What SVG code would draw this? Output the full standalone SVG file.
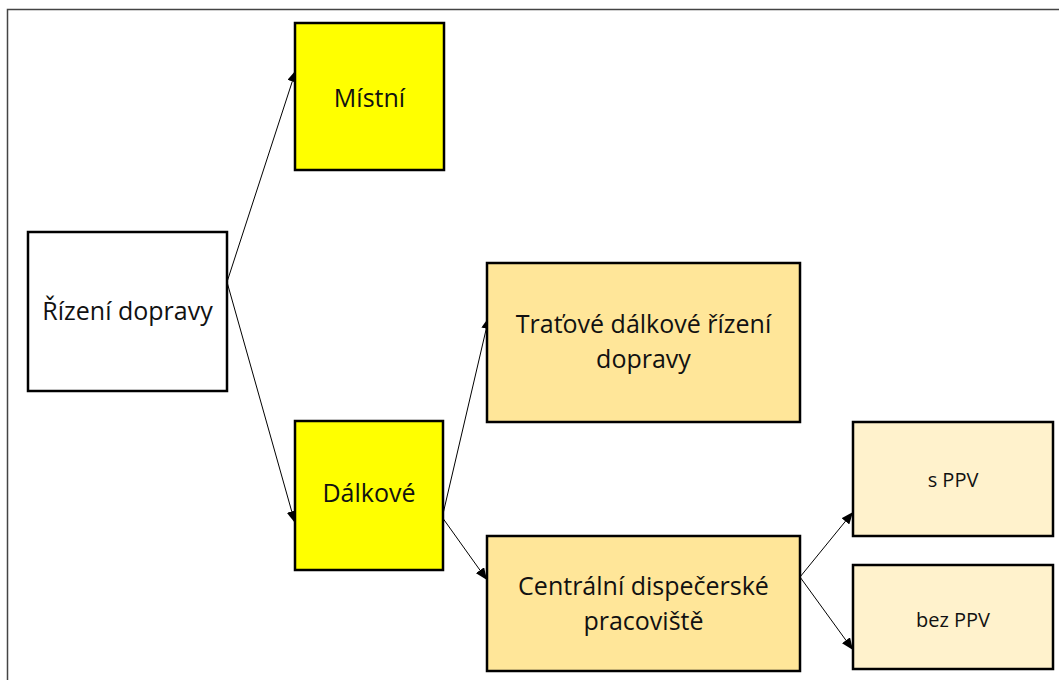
<svg xmlns="http://www.w3.org/2000/svg" width="1059" height="680" viewBox="0 0 1059 680">
<style>
.box{stroke:#000;stroke-width:2.5}
.y{fill:#FFFF00}
.o{fill:#FFE699}
.l{fill:#FFF2CC}
.w{fill:#FFFFFF}
text{font-family:"Open Sans","Liberation Sans",sans-serif;fill:#111;text-anchor:middle}
.big{font-size:25px}
.sm{font-size:20px}
.c{stroke:#000;stroke-width:1;fill:none;marker-end:url(#ah)}
</style>
<defs>
<marker id="ah" viewBox="0 0 12 10" refX="12" refY="5" markerWidth="12" markerHeight="10" markerUnits="userSpaceOnUse" orient="auto">
<path d="M0,0 L12,5 L0,10 Z" fill="#000"/>
</marker>
</defs>
<rect width="1059" height="680" fill="#fff"/>
<path d="M7.5,690 V9.5 H1070" fill="none" stroke="#444" stroke-width="1.5"/>
<g id="connectors">
<line class="c" x1="227" y1="282" x2="296" y2="70"/>
<line class="c" x1="227" y1="282" x2="295" y2="523"/>
<line class="c" x1="443" y1="514" x2="489" y2="317"/>
<line class="c" x1="442" y1="517" x2="487" y2="580"/>
<line class="c" x1="800" y1="577" x2="853" y2="512"/>
<line class="c" x1="800" y1="577" x2="853" y2="650"/>
</g>
<g id="rizeni"><rect class="box w" x="28" y="232" width="199" height="159"/><text class="big" x="127.5" y="320">Řízení dopravy</text></g>
<g id="mistni"><rect class="box y" x="295" y="23" width="149" height="147"/><text class="big" x="369.5" y="107">Místní</text></g>
<g id="dalkove"><rect class="box y" x="295" y="421" width="148" height="149"/><text class="big" x="369" y="502">Dálkové</text></g>
<g id="tratove"><rect class="box o" x="487" y="263" width="313" height="159"/><text class="big" x="643.5" y="333">Traťové dálkové řízení</text><text class="big" x="643.5" y="368">dopravy</text></g>
<g id="centralni"><rect class="box o" x="487" y="536" width="313" height="135"/><text class="big" x="643.5" y="595">Centrální dispečerské</text><text class="big" x="643.5" y="630">pracoviště</text></g>
<g id="sppv"><rect class="box l" x="853" y="422" width="200" height="114"/><text class="sm" x="953" y="487">s PPV</text></g>
<g id="bezppv"><rect class="box l" x="853" y="565" width="200" height="104"/><text class="sm" x="953" y="627">bez PPV</text></g>
</svg>
